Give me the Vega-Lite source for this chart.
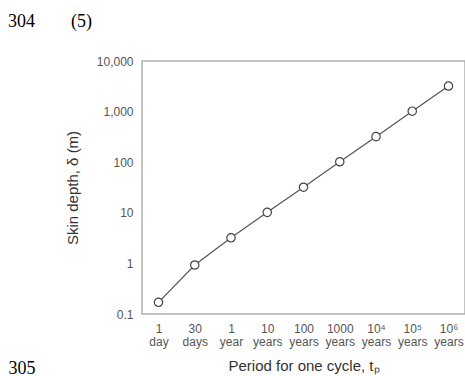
{
  "$schema": "https://vega.github.io/schema/vega-lite/v6.json",
  "width": 323,
  "height": 253,
  "autosize": "none",
  "padding": {"left": 142, "top": 61, "right": 0, "bottom": 62},
  "background": "white",
  "config": {
    "view": {"stroke": "#b0b0b0", "strokeWidth": 1.5},
    "font": "Liberation Sans"
  },
  "title": {
    "text": "304\u00a0\u00a0\u00a0\u00a0\u00a0\u00a0\u00a0\u00a0(5)",
    "orient": "top",
    "anchor": "start",
    "frame": "group",
    "font": "Liberation Serif",
    "fontSize": 18,
    "fontWeight": "normal",
    "color": "#000000",
    "baseline": "alphabetic",
    "offset": 0,
    "dx": -134,
    "dy": -10
  },
  "data": {
    "values": [
      {"period": "1|day", "depth": 0.17},
      {"period": "30|days", "depth": 0.93},
      {"period": "1|year", "depth": 3.2},
      {"period": "10|years", "depth": 10.2},
      {"period": "100|years", "depth": 32},
      {"period": "1000|years", "depth": 102},
      {"period": "10⁴|years", "depth": 320},
      {"period": "10⁵|years", "depth": 1020},
      {"period": "10⁶|years", "depth": 3200}
    ]
  },
  "layer": [
    {
      "mark": {"type": "line", "color": "#555555", "strokeWidth": 1.2},
      "encoding": {
        "x": {
          "field": "period", "type": "ordinal", "sort": null,
          "scale": {"type": "point", "padding": 0.455},
          "axis": {
            "labelExpr": "split(datum.label, '|')",
            "labelAngle": 0,
            "labelFontSize": 12,
            "labelColor": "#555555",
            "labelPadding": 9,
            "labelBaseline": "top",
            "labelLineHeight": 13,
            "ticks": false,
            "domain": false,
            "title": "Period for one cycle, tₚ",
            "titleFontSize": 15,
            "titleFontWeight": "normal",
            "titleColor": "#333333",
            "titlePadding": 11
          }
        },
        "y": {
          "field": "depth", "type": "quantitative",
          "scale": {"type": "log", "domain": [0.1, 10000], "nice": false},
          "axis": {
            "values": [0.1, 1, 10, 100, 1000, 10000],
            "format": ",",
            "ticks": false,
            "domain": false,
            "grid": false,
            "labelFontSize": 12,
            "labelColor": "#555555",
            "labelPadding": 9,
            "title": "Skin depth, δ (m)",
            "titleFontSize": 15,
            "titleFontWeight": "normal",
            "titleColor": "#333333",
            "titlePadding": 16
          }
        }
      }
    },
    {
      "mark": {"type": "point", "filled": true, "fill": "white", "stroke": "#444444", "strokeWidth": 1.2, "size": 70, "opacity": 1},
      "encoding": {
        "x": {
          "field": "period", "type": "ordinal", "sort": null,
          "scale": {"type": "point", "padding": 0.455},
          "axis": {
            "orient": "bottom",
            "labels": false,
            "ticks": false,
            "domain": false,
            "grid": false,
            "title": "305",
            "titleFont": "Liberation Serif",
            "titleFontSize": 18,
            "titleFontWeight": "normal",
            "titleColor": "#000000",
            "titleAlign": "left",
            "titleAnchor": null,
            "titleBaseline": "alphabetic",
            "titleX": -134,
            "titleY": 59
          }
        },
        "y": {"field": "depth", "type": "quantitative"}
      }
    }
  ],
  "resolve": {"scale": {"x": "independent"}}
}
